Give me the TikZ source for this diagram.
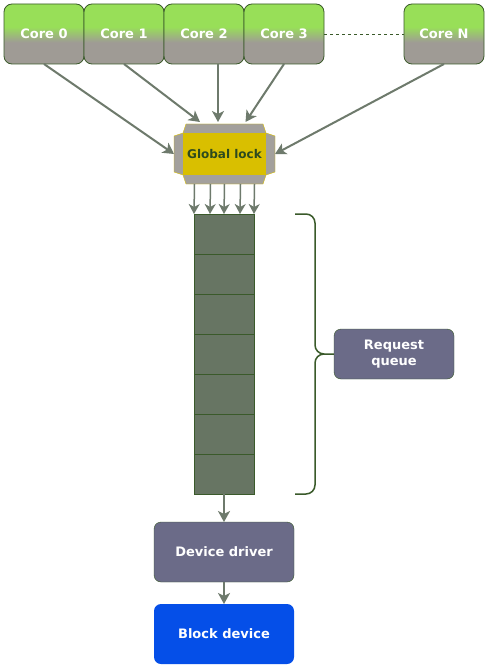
\documentclass[tikz,border=0pt]{standalone}
\usepackage{fontspec}
\setmainfont{DejaVu Sans}
\usepackage{tikz}
\usetikzlibrary{arrows.meta,positioning,shapes.geometric}
\usepackage{xcolor}
\definecolor{coregreen}{HTML}{98DF58}
\definecolor{coregray}{HTML}{9F9B95}
\definecolor{edgegreen}{HTML}{3A5A2A}
\definecolor{arrowgray}{HTML}{6E7A6C}
\definecolor{lockyellow}{HTML}{D9BF00}
\definecolor{chipgray}{HTML}{A3A09C}
\definecolor{locktext}{HTML}{2D4A1E}
\definecolor{queuegreen}{HTML}{677563}
\definecolor{slate}{HTML}{6B6B88}
\definecolor{blockblue}{HTML}{054FE8}
\pgfdeclareverticalshading{coreshade}{100bp}{color(0bp)=(coregray); color(43bp)=(coregray); color(56bp)=(coregreen); color(100bp)=(coregreen)}

\tikzset{
	core/.style={draw=edgegreen, thick, rounded corners=8pt, shading=coreshade,
		minimum width=80pt, minimum height=60pt, outer sep=0pt,
		text=white, font=\fontsize{13}{15}\selectfont\bfseries},
	box/.style={draw=edgegreen, rounded corners=7pt, fill=slate, outer sep=0pt,
		text=white, align=center, font=\fontsize{13}{16}\selectfont\bfseries},
	cell/.style={draw=edgegreen, fill=queuegreen, minimum width=60pt,
		minimum height=40pt, outer sep=0pt, inner sep=0pt},
	arr/.style={draw=arrowgray, line width=2pt, -{Stealth[length=11pt,width=12pt,inset=3pt]}},
	feed/.style={draw=arrowgray, line width=1.5pt, -{Stealth[length=10pt,width=11pt,inset=3pt]}}
}

\begin{document}
\begin{tikzpicture}[x=1pt, y=-1pt]
	\useasboundingbox[fill=white] (0,0) rectangle (487,671);

	% cores
	\node[core] (core0) at (44,34) {Core 0};
	\node[core, right=0pt of core0] (core1) {Core 1};
	\node[core, right=0pt of core1] (core2) {Core 2};
	\node[core, right=0pt of core2] (core3) {Core 3};
	\node[core] (coreN) at (444,34) {Core N};
	\draw[edgegreen, dashed] (core3.east) -- (coreN.west);

	% lock chip
	\draw[draw=lockyellow, fill=chipgray] (186,124) -- (263,124) -- (266,133) -- (275,136)
		-- (275,172) -- (266,175) -- (263,184) -- (186,184) -- (183,175) -- (174,172)
		-- (174,136) -- (183,133) -- cycle;
	\node[minimum width=101pt, minimum height=60pt, outer sep=0pt] (chip) at (224.5,154) {};
	\node[fill=lockyellow, minimum width=83pt, minimum height=42pt, text=locktext,
		font=\fontsize{12}{14}\selectfont\bfseries] (lock) at (224.5,154) {Global lock};

	\draw[arr] (core0.south) -- (chip.west);
	\draw[arr] (core1.south) -- ([xshift=-24.5pt,yshift=2pt]chip.north);
	\draw[arr] ([xshift=14pt]core2.south) -- ([xshift=-6.5pt,yshift=2pt]chip.north);
	\draw[arr] (core3.south) -- ([xshift=21pt,yshift=2pt]chip.north);
	\draw[arr] (coreN.south) -- (chip.east);

	% request queue
	\foreach \i in {0,...,6}
		\node[cell] (q\i) at (224,234+40*\i) {};
	\foreach \dx in {-30,-14,0,16,30}
		\draw[feed] ([xshift=\dx pt]chip.south) -- ([xshift=\dx pt]q0.north);

	\draw[edgegreen, line width=1.5pt] (295,214) -- (306,214) to[out=0,in=90] (315,223)
		-- (315,345) to[out=-90,in=180] (324,354) -- (334,354);
	\draw[edgegreen, line width=1.5pt] (295,494) -- (306,494) to[out=0,in=-90] (315,485)
		-- (315,363) to[out=90,in=180] (324,354);
	\node[box, minimum width=120pt, minimum height=50pt] (rq) at (394,354) {Request\\queue};

	% driver and device
	\node[box, minimum width=140pt, minimum height=60pt] (driver) at (224,552) {Device driver};
	\node[box, draw=none, fill=blockblue, minimum width=140pt, minimum height=60pt] (block) at (224,634) {Block device};
	\draw[arr] (q6.south) -- (driver.north);
	\draw[arr] (driver.south) -- (block.north);
\end{tikzpicture}
\end{document}
